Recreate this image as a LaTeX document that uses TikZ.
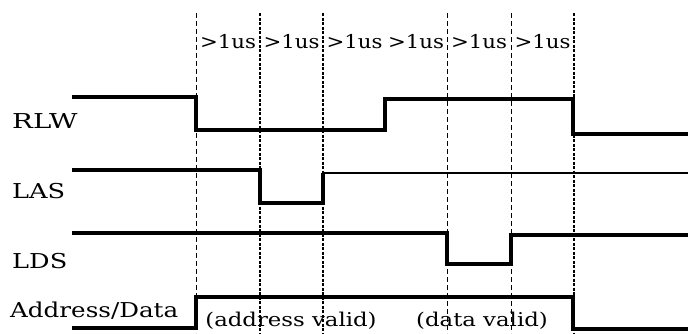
\documentclass[tikz,border=0pt]{standalone}
\usepackage{graphicx}
\usepackage{fontspec}
\setmainfont{DejaVu Serif}
\newcommand{\widetxt}[2][1.2]{\scalebox{#1}[1]{#2}}
\begin{document}
\begin{tikzpicture}[x=1pt,y=-1pt,
  sig/.style={line width=3.2pt,line join=miter,line cap=butt},
  thinsig/.style={line width=1.3pt},
  guide/.style={line width=1pt,dash pattern=on 5pt off 3pt},
  guideb/.style={line width=1.5pt,dash pattern=on 3pt off 1.5pt},
  lbl/.style={inner sep=0pt,font=\fontsize{20.5}{24}\selectfont},
  tlbl/.style={inner sep=0pt,font=\fontsize{19}{22}\selectfont}]
\useasboundingbox (0,0) rectangle (688,333);
% guides
\draw[guide] (196,13) -- (196,333);
\draw[guideb] (260,13) -- (260,333);
\draw[guideb] (323,13) -- (323,333);
\draw[guide] (447,13) -- (447,333);
\draw[guide] (511,13) -- (511,333);
\draw[guideb] (574,13) -- (574,333);
% interval labels
\node[tlbl,anchor=base] (t1) at (228,48) {\widetxt[1.12]{>1us}};
\node[tlbl,anchor=base] (t2) at (291.5,48) {\widetxt[1.12]{>1us}};
\node[tlbl,anchor=base] (t3) at (354.5,48) {\widetxt[1.12]{>1us}};
\node[tlbl,anchor=base] (t4) at (416,48) {\widetxt[1.12]{>1us}};
\node[tlbl,anchor=base] (t5) at (479,48) {\widetxt[1.12]{>1us}};
\node[tlbl,anchor=base] (t6) at (542.5,48) {\widetxt[1.12]{>1us}};
% signal names
\node[lbl,anchor=base west] (rlw) at (12,128) {\widetxt[1.35]{RLW}};
\node[lbl,anchor=base west] (las) at (12,198) {\widetxt[1.25]{LAS}};
\node[lbl,anchor=base west] (lds) at (12,268) {\widetxt[1.25]{LDS}};
\node[lbl,anchor=base west] (ad) at (10,317) {\widetxt{Address/Data}};
% waveforms
\draw[sig] (72,97) -- (196,97) -- (196,130) -- (385,130) -- (385,99) -- (573,99) -- (573,134) -- (688,134);
\draw[sig] (72,170) -- (260,170) -- (260,203) -- (323,203) -- (323,173);
\draw[thinsig] (323,173) -- (688,173);
\draw[sig] (72,233) -- (447,233) -- (447,264) -- (511,264) -- (511,235) -- (688,235);
\draw[sig] (72,328) -- (196,328) -- (196,297) -- (573,297) -- (573,329) -- (688,329);
% data labels
\node[tlbl,anchor=base] (av) at (291,326) {\widetxt{(address valid)}};
\node[tlbl,anchor=base] (dv) at (482,326) {\widetxt{(data valid)}};
\end{tikzpicture}
\end{document}
